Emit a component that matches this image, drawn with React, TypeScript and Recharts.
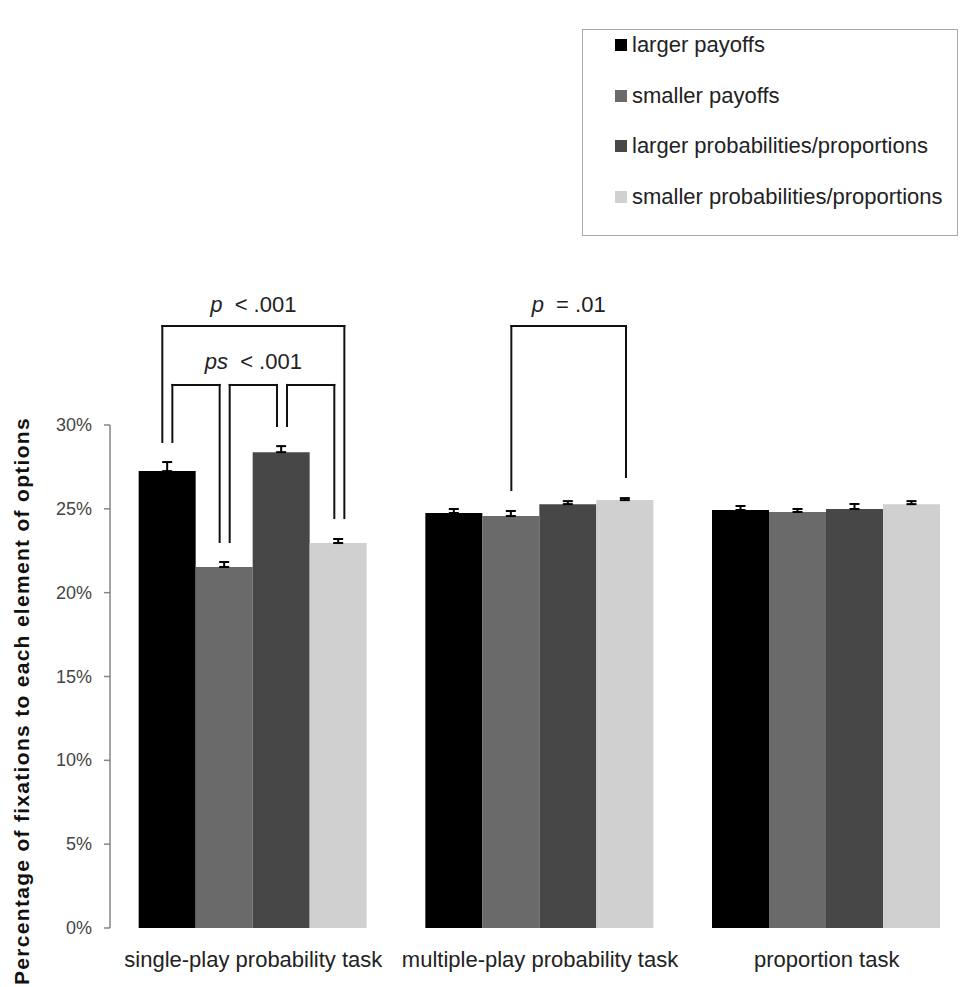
import React from 'react';
import {
  BarChart,
  Bar,
  XAxis,
  YAxis,
  ErrorBar,
  Legend,
  ReferenceLine,
  ReferenceDot,
} from 'recharts';

const categories = ['single-play probability task', 'multiple-play probability task', 'proportion task'];
const seriesNames = [
  'larger payoffs',
  'smaller payoffs',
  'larger probabilities/proportions',
  'smaller probabilities/proportions',
];

// mean % of fixations per task
const largerPayoffs = [27.25, 24.75, 24.93];
const smallerPayoffs = [21.53, 24.57, 24.81];
const largerProbs = [28.38, 25.28, 24.99];
const smallerProbs = [22.96, 25.52, 25.28];

// upper error (SE)
const largerPayoffsErr = [0.54, 0.24, 0.24];
const smallerPayoffsErr = [0.3, 0.3, 0.18];
const largerProbsErr = [0.36, 0.18, 0.3];
const smallerProbsErr = [0.24, 0.12, 0.18];

const yTicks = [0, 5, 10, 15, 20, 25, 30];
const groupTicks = [0, 1, 2, 3];

// significance brackets, in data units (group, bar index, side of bar, y values in %)
const brackets = [
  { group: 0, from: 0, fromSide: -1, to: 3, toSide: 1, top: 35.9, fromEnd: 28.99, toEnd: 24.45, italic: 'p', rest: '  < .001', textY: 36.74 },
  { group: 0, from: 0, fromSide: 1, to: 1, toSide: -1, top: 32.39, fromEnd: 28.99, toEnd: 23.02, italic: '', rest: '', textY: 0 },
  { group: 0, from: 1, fromSide: 1, to: 2, toSide: -1, top: 32.39, fromEnd: 23.02, toEnd: 29.94, italic: 'ps', rest: '  < .001', textY: 33.34 },
  { group: 0, from: 2, fromSide: 1, to: 3, toSide: -1, top: 32.39, fromEnd: 29.94, toEnd: 24.45, italic: '', rest: '', textY: 0 },
  { group: 1, from: 1, fromSide: 0, to: 3, toSide: 0, top: 35.9, fromEnd: 26.12, toEnd: 26.9, italic: 'p', rest: '  = .01', textY: 36.74 },
];

const values = [largerPayoffs, smallerPayoffs, largerProbs, smallerProbs];
const errors = [largerPayoffsErr, smallerPayoffsErr, largerProbsErr, smallerProbsErr];
const colors = ['#000000', '#6a6a6a', '#474747', '#d0d0d0'];

const font = '"Liberation Sans", Arial, sans-serif';
const gapFrac = 0.1;
const barUnit = (1 - 2 * gapFrac) / 4;
const legOffset = 0.0175;

const data = categories.map((name, i) => {
  const row: Record<string, any> = { name, pos: i + 0.5 };
  values.forEach((v, s) => {
    row[`s${s}`] = v[i];
    row[`e${s}`] = [0, errors[s][i]];
  });
  return row;
});

const barX = (group: number, bar: number, side: number) =>
  group + gapFrac + barUnit * (bar + 0.5) + side * legOffset;

const CategoryTick = ({ x, y, payload }: any) => (
  <text x={x} y={y} dy={39} textAnchor="middle" fontSize={22} fill="#222" fontFamily={font}>
    {payload.value}
  </text>
);

const PercentTick = ({ x, y, payload }: any) => (
  <text x={x} y={y} dy={6} textAnchor="end" fontSize={18} fill="#444" fontFamily={font}>
    {`${payload.value}%`}
  </text>
);

const YLabel = () => (
  <text
    x={21}
    y={701}
    transform="rotate(-90, 21, 701)"
    textAnchor="middle"
    dominantBaseline="central"
    fontSize={21}
    fontWeight="bold"
    letterSpacing={1.3}
    fill="#111"
    fontFamily={font}
  >
    Percentage of fixations to each element of options
  </text>
);

const LegendBox = () => (
  <div
    style={{
      boxSizing: 'border-box',
      width: 376,
      height: 207,
      border: '1.5px solid #a8a8a8',
      padding: '5px 0 0 32px',
      fontFamily: font,
      fontSize: 22,
      color: '#222',
      background: '#fff',
    }}
  >
    {seriesNames.map((name, i) => (
      <div key={name} style={{ display: 'flex', alignItems: 'center', height: 20, marginBottom: 30.5 }}>
        <span style={{ width: 12, height: 12, background: colors[i], marginRight: 5, flex: 'none' }} />
        <span style={{ lineHeight: '20px', whiteSpace: 'nowrap' }}>{name}</span>
      </div>
    ))}
  </div>
);

const App: React.FC = () => {
  const lineProps = { xAxisId: 'grid', stroke: '#111', strokeWidth: 2, ifOverflow: 'visible' as const, strokeLinecap: 'square' as const };

  return (
    <div style={{ position: 'absolute', left: 0, top: 0, width: 960, height: 987, overflow: 'hidden', background: '#fff' }}>
      <BarChart
        width={970}
        height={987}
        data={data}
        margin={{ top: 425, right: 0, bottom: 0, left: 0 }}
        barCategoryGap={`${gapFrac * 100}%`}
        barGap={0}
      >
        <XAxis
          xAxisId="grid"
          dataKey="pos"
          type="number"
          domain={[0, 3]}
          ticks={groupTicks}
          allowDataOverflow
          tick={false}
          tickSize={7}
          height={0}
          axisLine={{ stroke: '#868686', strokeWidth: 1.5 }}
          tickLine={{ stroke: '#868686', strokeWidth: 1.5 }}
        />
        <XAxis
          xAxisId="cat"
          dataKey="name"
          height={59}
          axisLine={false}
          tickLine={false}
          tickSize={0}
          tickMargin={0}
          interval={0}
          tick={<CategoryTick />}
        />
        <YAxis
          width={110}
          domain={[0, 30]}
          ticks={yTicks}
          tickSize={6}
          tickMargin={12}
          axisLine={{ stroke: '#868686', strokeWidth: 1.5 }}
          tickLine={{ stroke: '#868686', strokeWidth: 1.5 }}
          tick={<PercentTick />}
          label={<YLabel />}
        />
        <Legend
          layout="vertical"
          align="center"
          verticalAlign="middle"
          wrapperStyle={{ left: 582, top: 29, width: 376, height: 207 }}
          content={<LegendBox />}
        />
        {seriesNames.map((name, s) => (
          <Bar key={name} xAxisId="cat" dataKey={`s${s}`} name={name} fill={colors[s]} isAnimationActive={false}>
            <ErrorBar dataKey={`e${s}`} direction="y" width={5} stroke="#000" strokeWidth={2} isAnimationActive={false} />
          </Bar>
        ))}
        {brackets.flatMap((b, k) => {
          const x1 = barX(b.group, b.from, b.fromSide);
          const x2 = barX(b.group, b.to, b.toSide);
          const items = [
            <ReferenceLine key={`bl${k}`} {...lineProps} segment={[{ x: x1, y: b.fromEnd }, { x: x1, y: b.top }]} />,
            <ReferenceLine key={`bt${k}`} {...lineProps} segment={[{ x: x1, y: b.top }, { x: x2, y: b.top }]} />,
            <ReferenceLine key={`br${k}`} {...lineProps} segment={[{ x: x2, y: b.top }, { x: x2, y: b.toEnd }]} />,
          ];
          if (b.italic) {
            items.push(
              <ReferenceDot
                key={`bx${k}`}
                xAxisId="grid"
                x={(x1 + x2) / 2}
                y={b.textY}
                r={0}
                fill="none"
                stroke="none"
                ifOverflow="visible"
                label={(p: any) => (
                  <text
                    x={p.viewBox.x + p.viewBox.width / 2}
                    y={p.viewBox.y}
                    textAnchor="middle"
                    fontSize={22}
                    fill="#222"
                    fontFamily={font}
                    style={{ whiteSpace: 'pre' }}
                  >
                    <tspan fontStyle="italic">{b.italic}</tspan>
                    <tspan>{b.rest}</tspan>
                  </text>
                )}
              />
            );
          }
          return items;
        })}
      </BarChart>
    </div>
  );
};

export default App;
